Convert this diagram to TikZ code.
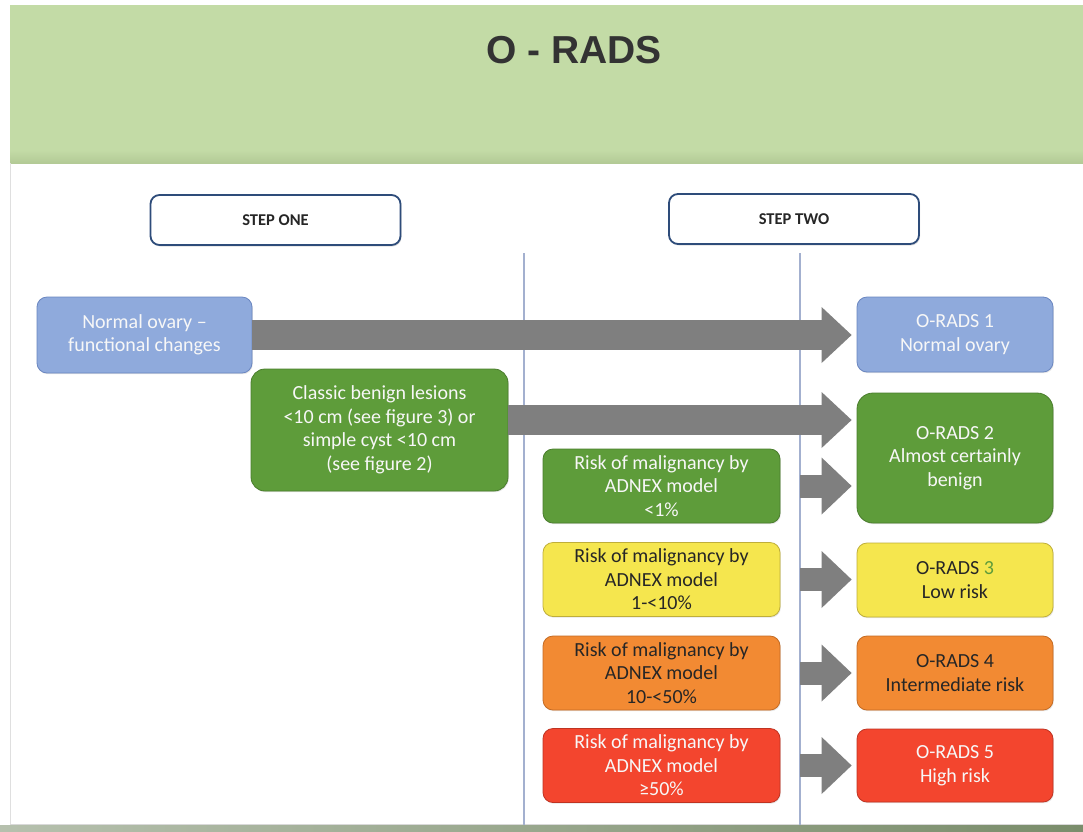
\documentclass[tikz,border=0pt]{standalone}
\usepackage{fontspec}
\setmainfont{Carlito}
\newfontfamily\headfont{Liberation Sans}
\usetikzlibrary{arrows.meta,shadows,calc}

\definecolor{bandgreen}{HTML}{C3DBA6}
\definecolor{bandshade}{HTML}{B3CA96}
\definecolor{footgreen}{HTML}{7A8D6B}
\definecolor{titlegray}{HTML}{333333}
\definecolor{stepblue}{HTML}{2E4C7A}
\definecolor{divider}{HTML}{A3B0CF}
\definecolor{arrowgray}{HTML}{7F7F7F}
\definecolor{cblue}{HTML}{8FAADC}
\definecolor{cblueD}{HTML}{6A86C0}
\definecolor{cgreen}{HTML}{5E9C3A}
\definecolor{cgreenD}{HTML}{4A7D2D}
\definecolor{cyellow}{HTML}{F5E64E}
\definecolor{cyellowD}{HTML}{BFAE3A}
\definecolor{corange}{HTML}{F28A33}
\definecolor{corangeD}{HTML}{C46A22}
\definecolor{cred}{HTML}{F3452E}
\definecolor{credD}{HTML}{BF3322}
\definecolor{darktext}{HTML}{262626}
\definecolor{lighttext}{HTML}{F7F7F7}

\tikzset{
  stepbox/.style={draw=stepblue, line width=1.8pt, fill=white, rounded corners=9pt,
    minimum width=250pt, minimum height=50pt, inner sep=0pt,
    font=\fontsize{16.5}{19}\selectfont\bfseries, text=darktext,
    drop shadow={opacity=0.25, shadow xshift=1pt, shadow yshift=-1.5pt}},
  card/.style={rounded corners=10pt, line width=0.8pt, inner sep=0pt, align=center,
    font=\fontsize{20}{23.5}\selectfont,
    drop shadow={opacity=0.2, shadow xshift=0.8pt, shadow yshift=-1.2pt}},
  bluecard/.style={card, fill=cblue, draw=cblueD, text=lighttext},
  greencard/.style={card, fill=cgreen, draw=cgreenD, text=lighttext},
  yellowcard/.style={card, fill=cyellow, draw=cyellowD, text=darktext},
  orangecard/.style={card, fill=corange, draw=corangeD, text=darktext},
  redcard/.style={card, fill=cred, draw=credD, text=lighttext},
  riskcard/.style={minimum width=237pt, minimum height=74pt},
  gradecard/.style={minimum width=196pt, minimum height=75pt},
  bigarrow/.style={draw=arrowgray, line width=30pt,
    -{Triangle[width=56pt,length=30pt,line width=0pt]}, shorten >=5pt},
  smallarrow/.style={draw=arrowgray, line width=23pt,
    -{Triangle[width=57pt,length=30pt,line width=0pt]}, shorten >=5pt},
  divline/.style={draw=divider, line width=1.2pt}
}

\begin{document}
\begin{tikzpicture}[x=1pt,y=-1pt]
  % page and header band
  \useasboundingbox (0,0) rectangle (1083,831);
  \fill[white] (0,0) rectangle (1083,831);
  \fill[bandgreen] (10,5) rectangle (1083,163);
  \shade[top color=bandgreen, bottom color=bandshade] (10,150) rectangle (1083,163);
  \draw[gray!25, line width=0.8pt] (10,163) -- (10,825);
  \shade[left color=footgreen!55, right color=footgreen] (0,825) rectangle (1083,831);
  \draw[gray!30, line width=0.8pt] (10,824) -- (1083,824);

  \node[font=\headfont\bfseries\fontsize{39}{45}\selectfont, text=titlegray,
        anchor=base, inner sep=0pt] (title) at (574,63) {O - RADS};

  % column headers
  \node[stepbox] (s1) at (275.5,220) {STEP ONE};
  \node[stepbox] (s2) at (794,219) {STEP TWO};

  % column dividers
  \coordinate (d1t) at (524,253);
  \coordinate (d1b) at (524,825);
  \coordinate (d2t) at (800,253);
  \coordinate (d2b) at (800,825);
  \draw[divline] (d1t) -- (d1b);
  \draw[divline] (d2t) -- (d2b);

  % step one
  \node[bluecard, minimum width=215pt, minimum height=76pt] (n1) at (144.5,335)
    {Normal ovary –\\functional changes};
  \node[greencard, rounded corners=14pt, minimum width=257pt, minimum height=122pt] (n2) at (379.5,430)
    {Classic benign lesions\\<10 cm (see figure 3) or\\simple cyst <10 cm\\(see figure 2)};

  % step two: ADNEX risk
  \node[greencard, riskcard] (r1) at (661.5,486)
    {Risk of malignancy by\\ADNEX model\\<1\%};
  \node[yellowcard, riskcard] (r2) at (661.5,579.5)
    {Risk of malignancy by\\ADNEX model\\1-<10\%};
  \node[orangecard, riskcard] (r3) at (661.5,673)
    {Risk of malignancy by\\ADNEX model\\10-<50\%};
  \node[redcard, riskcard] (r4) at (661.5,765.5)
    {Risk of malignancy by\\ADNEX model\\≥50\%};

  % O-RADS categories
  \node[bluecard, gradecard] (o1) at (955,334.5) {O-RADS 1\\Normal ovary};
  \node[greencard, gradecard, rounded corners=16pt, minimum height=130pt] (o2) at (955,458)
    {O-RADS 2\\Almost certainly\\benign};
  \node[yellowcard, gradecard, minimum height=74pt] (o3) at (955,580)
    {O-RADS \textcolor{cgreen}{3}\\Low risk};
  \node[orangecard, gradecard, minimum height=74pt] (o4) at (955,673)
    {O-RADS 4\\Intermediate risk};
  \node[redcard, gradecard, minimum height=73pt] (o5) at (955,765.5)
    {O-RADS 5\\High risk};

  % arrows
  \draw[bigarrow] (n1.east) -- (n1.east -| o1.west);
  \coordinate (a2) at ([yshift=10pt]n2.east);
  \draw[bigarrow] (a2) -- (a2 -| o2.west);

  \coordinate (b1) at ([xshift=20pt]r1.east);
  \coordinate (b2) at ([xshift=20pt]r2.east);
  \coordinate (b3) at ([xshift=20pt]r3.east);
  \coordinate (b4) at ([xshift=20pt]r4.east);
  \draw[smallarrow] (b1) -- (b1 -| o2.west);
  \draw[smallarrow] (b2) -- (b2 -| o3.west);
  \draw[smallarrow] (b3) -- (b3 -| o4.west);
  \draw[smallarrow] (b4) -- (b4 -| o5.west);
\end{tikzpicture}
\end{document}
